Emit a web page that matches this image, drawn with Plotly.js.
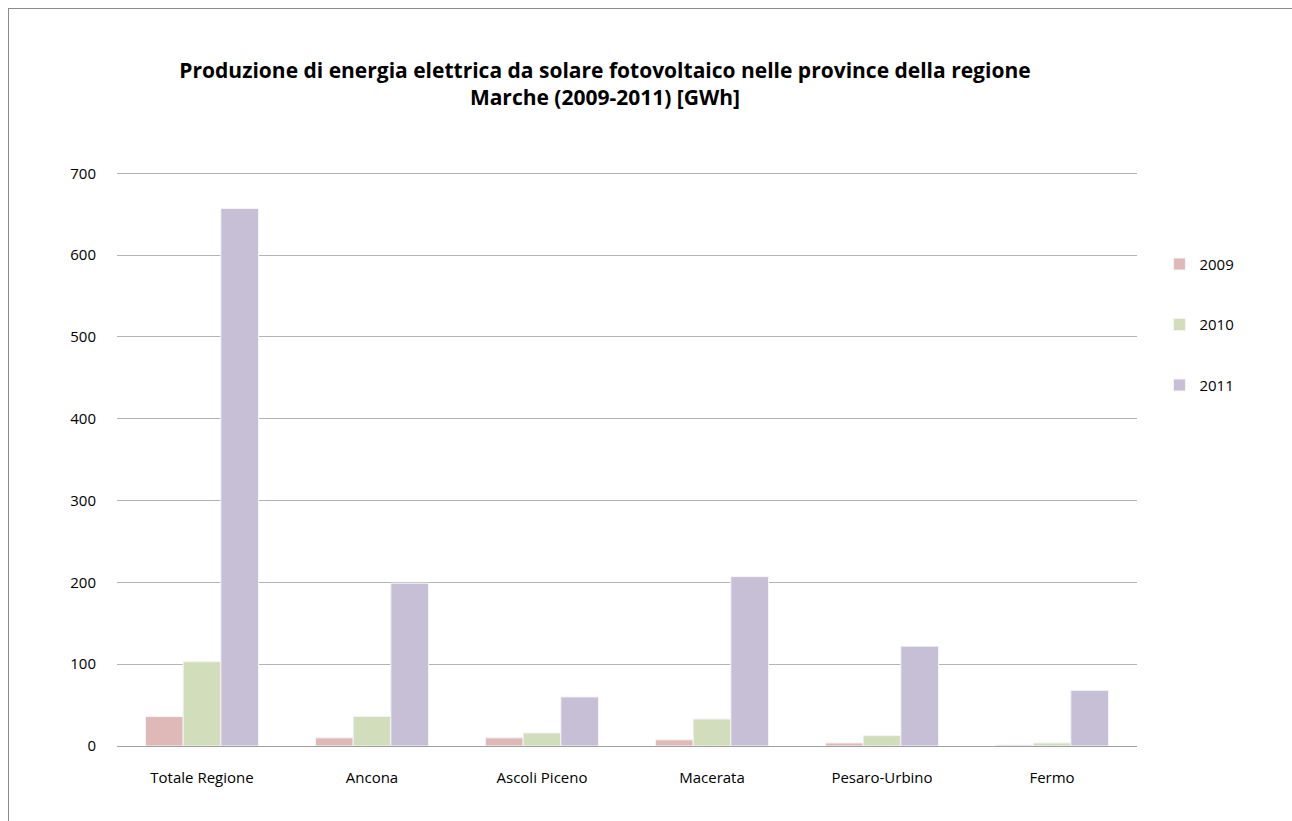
<!DOCTYPE html>
<html><head><meta charset="utf-8">
<script src="https://cdn.plot.ly/plotly-3.0.1.min.js"></script>
<style>
html,body{margin:0;padding:0;background:#fff;}
#wrap{position:absolute;left:8px;top:8px;width:1290px;height:820px;border-left:1px solid #8c8c8c;border-top:1px solid #8c8c8c;}
#chart{width:1290px;height:820px;}
</style></head>
<body><div id="wrap"><div id="chart"></div></div>
<script>
const categories = ["Totale Regione","Ancona","Ascoli Piceno","Macerata","Pesaro-Urbino","Fermo"];
const years = ["2009","2010","2011"];
const v2009 = [36, 10, 10, 7.5, 3.7, 1.2];
const v2010 = [103, 36, 16, 33, 12.7, 3.7];
const v2011 = [657, 199, 60, 207, 122, 68];
const yTicks = [0, 100, 200, 300, 400, 500, 600, 700];
const colors = ["#dfb9b8","#d1ddbb","#c7bfd6"];
const series = [v2009, v2010, v2011];

const traces = series.map((vals, i) => ({
  type: "bar", name: years[i], x: categories, y: vals,
  marker: {color: colors[i], line: {color: "#f4f4f8", width: 1}},
  legendgroup: "g" + i, hoverinfo: "x+y+name"
}));

const layout = {
  width: 1290, height: 820,
  margin: {l: 108, r: 162, t: 161, b: 83},
  paper_bgcolor: "#fff", plot_bgcolor: "#fff",
  font: {family: "Open Sans, sans-serif", size: 15, color: "#000"},
  title: {text: "<b>Produzione di energia elettrica da solare fotovoltaico nelle province della regione<br>Marche (2009-2011) [GWh]</b>",
          font: {family: "Open Sans, sans-serif", size: 21, color: "#000"},
          x: 0.462, xanchor: "center", y: 0.916, yanchor: "top"},
  barmode: "group", bargap: 0.335, bargroupgap: 0,
  xaxis: {showgrid: false, showline: true, linecolor: "#a0a0a0", linewidth: 1,
          ticks: "", tickfont: {size: 15}, ticklabelstandoff: 18},
  yaxis: {range: [0, 704], tickvals: yTicks, showgrid: true, gridcolor: "#b4b4b4", gridwidth: 1,
          zeroline: false, showline: false, ticks: "", tickfont: {size: 15}, ticklabelstandoff: 20},
  legend: {x: 1.022, xanchor: "left", y: 0.865, yanchor: "top",
           font: {size: 15}, tracegroupgap: 38, traceorder: "grouped",
           itemwidth: 30, bgcolor: "rgba(0,0,0,0)"},
  showlegend: true
};
Plotly.newPlot("chart", traces, layout, {displayModeBar: false, staticPlot: true});
</script></body></html>
